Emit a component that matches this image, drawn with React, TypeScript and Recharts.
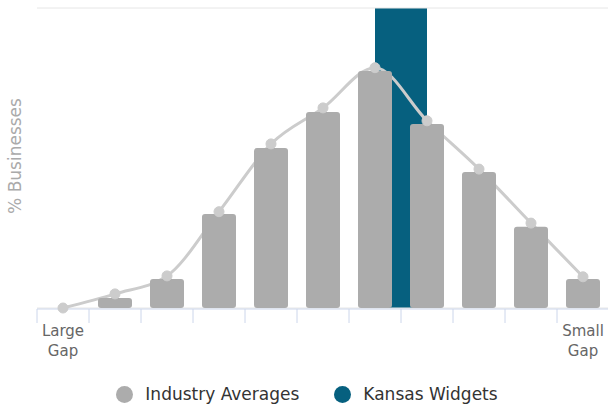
import React from 'react';
import { ComposedChart, Bar, Line, XAxis, YAxis, CartesianGrid, ReferenceArea } from 'recharts';

const gapLabels = ['Large Gap', '', '', '', '', '', '', '', '', '', 'Small Gap'];
const industryBars = [null, 3.3, 9.7, 31.3, 53.3, 65.3, 79, 61.3, 45.3, 27.1, 9.7];
const industryLine = [0, 4.7, 10.7, 32.1, 54.7, 66.7, 80.1, 62.4, 46.3, 28.3, 10.4];
const kansasFrom = 6;
const kansasTo = 7;
const kansasValue = 100;
const yTicks = [0, 50, 100];
const xBoundaries = [-0.5, 0.5, 1.5, 2.5, 3.5, 4.5, 5.5, 6.5, 7.5, 8.5, 9.5, 10.5];
const labelTicks = [0, 10];

const data = gapLabels.map((label, i) => ({
  x: i,
  label,
  bar: industryBars[i],
  line: industryLine[i],
}));

const FONT = '"DejaVu Sans", sans-serif';
const GREY = '#acacac';
const LINE = '#cccccc';
const TEAL = '#06607f';

const EmptyTick = () => <g />;

const GapTick = (props: any) => {
  const { x, y, payload } = props;
  const text = gapLabels[payload.value] || '';
  const words = text.split(' ');
  return (
    <text x={x} y={y} textAnchor="middle" fill="#666" fontSize={15} fontFamily={FONT}>
      {words.map((w: string, i: number) => (
        <tspan key={i} x={x} dy={i === 0 ? '0.71em' : 20}>
          {w}
        </tspan>
      ))}
    </text>
  );
};

const YLabel = (props: any) => {
  const vb = props.viewBox || { x: 37, y: 8, width: 0, height: 300 };
  const x = vb.x + vb.width - 16;
  const y = vb.y + vb.height / 2 - 2;
  return (
    <text
      x={x}
      y={y}
      transform={`rotate(-90, ${x}, ${y})`}
      textAnchor="middle"
      fill="#aaa"
      fontSize={17}
      fontFamily={FONT}
    >
      % Businesses
    </text>
  );
};

const legendItems = [
  { name: 'Industry Averages', color: GREY },
  { name: 'Kansas Widgets', color: TEAL },
];

export default function App() {
  return (
    <div style={{ position: 'absolute', left: 0, top: 0, width: 608, height: 407, overflow: 'hidden', background: '#fff' }}>
      <ComposedChart
        width={620}
        height={407}
        data={data}
        margin={{ top: 8, right: 11, bottom: 97, left: 36 }}
      >
        <ReferenceArea
          xAxisId="t"
          x1={kansasFrom}
          x2={kansasTo}
          y1={0}
          y2={kansasValue}
          fill={TEAL}
          fillOpacity={1}
          stroke="none"
          zIndex={-200}
        />
        <CartesianGrid xAxisId="t" vertical={false} stroke="#e6e6e6" strokeWidth={1} />
        <XAxis
          xAxisId="t"
          type="number"
          dataKey="x"
          domain={[-0.5, 10.5]}
          ticks={xBoundaries}
          interval={0}
          tick={<EmptyTick />}
          tickSize={14}
          height={1}
          axisLine={{ stroke: '#ccd6eb' }}
          tickLine={{ stroke: '#ccd6eb' }}
        />
        <XAxis
          xAxisId="l"
          type="number"
          dataKey="x"
          domain={[-0.5, 10.5]}
          ticks={labelTicks}
          interval={0}
          tickSize={0}
          tickMargin={17}
          height={1}
          axisLine={false}
          tickLine={false}
          tick={<GapTick />}
        />
        <YAxis
          domain={[0, 100]}
          ticks={yTicks}
          width={1}
          tick={false}
          axisLine={false}
          tickLine={false}
          label={<YLabel />}
        />
        <Line
          xAxisId="t"
          dataKey="line"
          type="monotone"
          stroke={LINE}
          strokeWidth={3}
          dot={{ r: 5, fill: LINE, stroke: LINE, strokeWidth: 1 }}
          activeDot={false}
          isAnimationActive={false}
          zIndex={250}
        />
        <Bar
          xAxisId="t"
          dataKey="bar"
          fill={GREY}
          barSize={34}
          radius={[3, 3, 3, 3]}
          isAnimationActive={false}
          zIndex={300}
        />
      </ComposedChart>
      <div
        style={{
          position: 'absolute',
          left: 0,
          top: 384,
          width: 614,
          display: 'flex',
          justifyContent: 'center',
          fontFamily: FONT,
          fontSize: 17,
          lineHeight: '20px',
          color: '#333',
        }}
      >
        {legendItems.map((it, i) => (
          <div key={it.name} style={{ display: 'flex', alignItems: 'center', marginLeft: i === 0 ? 0 : 35 }}>
            <span
              style={{
                display: 'inline-block',
                width: 17,
                height: 17,
                borderRadius: '50%',
                background: it.color,
                marginRight: 12,
              }}
            />
            <span>{it.name}</span>
          </div>
        ))}
      </div>
    </div>
  );
}
